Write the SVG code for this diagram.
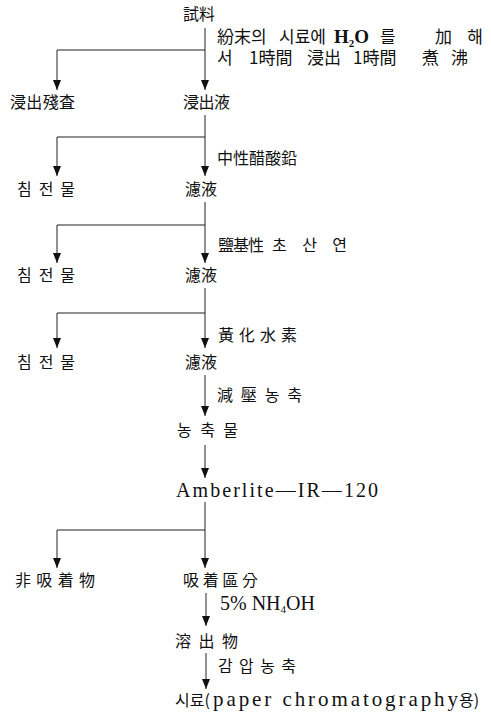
<svg xmlns="http://www.w3.org/2000/svg" width="491" height="724" viewBox="0 0 491 724">
<defs>
<marker id="arrA" viewBox="0 0 10 8" refX="10" refY="4" markerWidth="10" markerHeight="8" markerUnits="userSpaceOnUse" orient="auto">
<path d="M0,0 L10,4 L0,8 Z" fill="#111"/>
</marker>
<style>
text{font-family:"Noto Sans CJK KR","Noto Sans CJK SC",sans-serif;font-size:16px;fill:#111}
.lat{font-family:"Liberation Serif","Noto Sans CJK KR",serif}
.ann{font-size:17px}
.sub{font-size:11px}
.c line{stroke:#222;stroke-width:1}
.c line.a{marker-end:url(#arrA)}
</style>
</defs>
<rect width="491" height="724" fill="#fff"/>
<g class="c" id="connectors">
<line x1="205" y1="28" x2="205" y2="90" class="a"/>
<line x1="57" y1="50" x2="205" y2="50"/>
<line x1="57" y1="50" x2="57" y2="90" class="a"/>
<line x1="205" y1="115" x2="205" y2="176" class="a"/>
<line x1="57" y1="137" x2="205" y2="137"/>
<line x1="57" y1="137" x2="57" y2="176" class="a"/>
<line x1="205" y1="202" x2="205" y2="263" class="a"/>
<line x1="57" y1="225" x2="205" y2="225"/>
<line x1="57" y1="225" x2="57" y2="263" class="a"/>
<line x1="205" y1="288" x2="205" y2="348" class="a"/>
<line x1="57" y1="313" x2="205" y2="313"/>
<line x1="57" y1="313" x2="57" y2="348" class="a"/>
<line x1="205" y1="375" x2="205" y2="416" class="a"/>
<line x1="205" y1="445" x2="205" y2="478" class="a"/>
<line x1="205" y1="502" x2="205" y2="568" class="a"/>
<line x1="57" y1="530" x2="205" y2="530"/>
<line x1="57" y1="530" x2="57" y2="568" class="a"/>
<line x1="206" y1="593" x2="206" y2="626" class="a"/>
<line x1="206" y1="653" x2="206" y2="689" class="a"/>
</g>
<g id="n-sample"><text x="183" y="20">試料</text></g>
<g id="l-extract">
<text class="ann" x="217" y="43">紛末의</text><text class="ann" x="279" y="43">시료에</text><text class="lat" x="334" y="43" style="font-size:19px;font-weight:bold">H<tspan class="sub" dy="4">2</tspan><tspan dy="-4">O</tspan></text><text class="ann" x="380" y="43">를</text><text class="ann" x="435" y="43" textLength="48">加해</text>
<text class="ann" x="217" y="64">서</text><text class="ann" x="249" y="64">1時間</text><text class="ann" x="307" y="64">浸出</text><text class="ann" x="353" y="64">1時間</text><text class="ann" x="422" y="64" textLength="46">煮沸</text>
</g>
<g id="n-residue"><text x="10" y="108" textLength="65">浸出殘査</text></g>
<g id="n-extract"><text x="183" y="108" textLength="47">浸出液</text></g>
<g id="l-lead"><text x="217" y="164" textLength="80">中性醋酸鉛</text></g>
<g id="n-ppt1"><text x="17" y="195" textLength="58">침전물</text></g>
<g id="n-filt1"><text x="185" y="195">濾液</text></g>
<g id="l-basic"><text x="218" y="251" textLength="46">鹽基性</text><text x="272" y="251" textLength="75">초산연</text></g>
<g id="n-ppt2"><text x="17" y="281" textLength="58">침전물</text></g>
<g id="n-filt2"><text x="185" y="281">濾液</text></g>
<g id="l-h2s"><text x="218" y="341" textLength="79">黃化水素</text></g>
<g id="n-ppt3"><text x="17" y="368" textLength="58">침전물</text></g>
<g id="n-filt3"><text x="185" y="368">濾液</text></g>
<g id="l-conc"><text x="217" y="401" textLength="85">減壓농축</text></g>
<g id="n-conc"><text x="177" y="436" textLength="61">농축물</text></g>
<g id="n-amberlite"><text class="lat" x="176" y="497" style="font-size:20px" textLength="202" lengthAdjust="spacing">Amberlite—IR—120</text></g>
<g id="n-nonads"><text x="15" y="586" textLength="80">非吸着物</text></g>
<g id="n-ads"><text x="183" y="586" textLength="75">吸着區分</text></g>
<g id="l-nh4oh"><text class="lat" x="220" y="610" style="font-size:20px">5% NH<tspan class="sub" dy="3">4</tspan><tspan dy="-3">OH</tspan></text></g>
<g id="n-eluate"><text x="175" y="647" textLength="63">溶出物</text></g>
<g id="l-vac"><text x="218" y="672" textLength="78">감압농축</text></g>
<g id="n-final"><text x="175" y="706">시료(</text><text class="lat" x="213" y="706" style="font-size:21px" textLength="245" lengthAdjust="spacing">paper chromatography</text><text x="459" y="706">용)</text></g>
</svg>
